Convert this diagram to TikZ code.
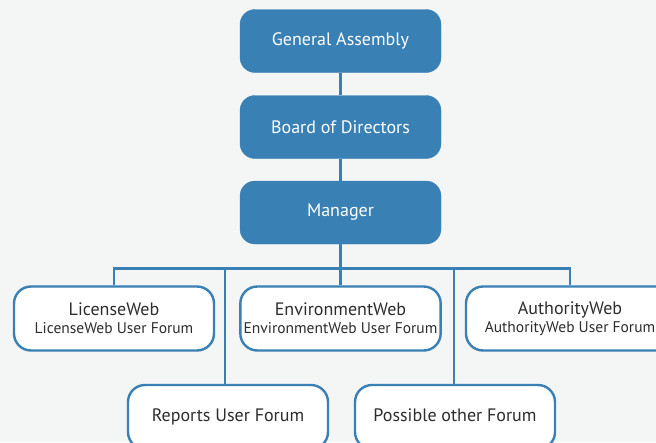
\documentclass[tikz,border=0pt]{standalone}
\usepackage{fontspec}
\setmainfont{PT Sans}
\usetikzlibrary{positioning}
\definecolor{pagebg}{RGB}{244,245,245}
\definecolor{orgblue}{RGB}{57,128,180}
\definecolor{orgtext}{RGB}{45,45,45}

\tikzset{
    boardbox/.style={fill=orgblue,draw=orgblue,rounded corners=15pt,
        minimum width=201pt,minimum height=63pt,text=white,
        font=\fontsize{18}{21}\selectfont},
    forumbox/.style={fill=white,draw=orgblue,line width=2.4pt,rounded corners=17pt,
        minimum width=200pt,minimum height=64pt,text=orgtext,align=center,
        font=\fontsize{18}{21}\selectfont},
    singleforum/.style={forumbox,text height=13pt,text depth=4pt},
    orgline/.style={draw=orgblue,line width=2.2pt}
}
\newcommand{\forumsub}[1]{{\fontsize{15.5}{17}\selectfont #1}}

\begin{document}
\begin{tikzpicture}[x=1pt,y=-1pt]
    \fill [pagebg] (0,0) rectangle (656,442);
    \useasboundingbox (0,0) rectangle (656,442);
    \clip (0,0) rectangle (656,442);

    % top of the chart
    \node [boardbox] (assembly) at (340.5,41) {General Assembly};
    \node [boardbox] (board)    at (340.5,127) {Board of Directors};
    \node [boardbox] (manager)  at (340.5,212.5) {Manager};

    % forums
    \node [forumbox] (license)   at (114,318.5) {LicenseWeb\\[-3pt]\forumsub{LicenseWeb User Forum}};
    \node [forumbox] (environ)   at (340.5,318.5) {EnvironmentWeb\\[-3pt]\forumsub{EnvironmentWeb User Forum}};
    \node [forumbox,minimum width=208pt] (authority) at (570,318.5) {AuthorityWeb\\[-3pt]\forumsub{AuthorityWeb User Forum}};
    \node [singleforum] (reports)   at (228,417) {Reports User Forum};
    \node [singleforum] (possible)  at (455,417) {Possible other Forum};

    \coordinate (bus) at (340.5,268.5);

    \draw [orgline] (assembly) -- (board);
    \draw [orgline] (board) -- (manager);
    \draw [orgline] (manager) -- (environ);
    \draw [orgline] (license.north) |- (bus) -| (authority.north);
    \draw [orgline] ([xshift=-3pt]reports.north) -- ([xshift=-3pt]reports.north |- bus);
    \draw [orgline] ([xshift=-1pt]possible.north) -- ([xshift=-1pt]possible.north |- bus);
\end{tikzpicture}
\end{document}
